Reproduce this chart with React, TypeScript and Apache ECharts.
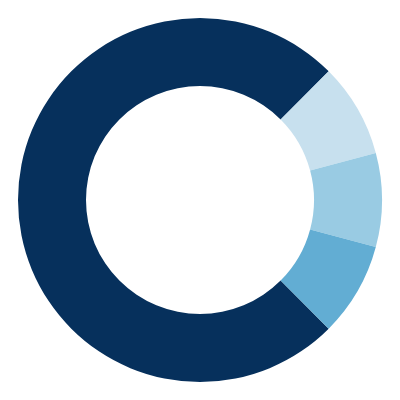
import { useEffect, useRef } from 'react'
import * as echarts from 'echarts'

const CATEGORIES = ['A', 'B', 'C', 'D']
const VALUES = [9, 1, 1, 1]
const COLORS = ['#06305c', '#c7e0ee', '#99cbe3', '#62add3']

export default function App() {
  const elRef = useRef<HTMLDivElement>(null)

  useEffect(() => {
    if (!elRef.current) return
    const chart = echarts.init(elRef.current, undefined, { renderer: 'svg' })
    chart.setOption({
      animation: false,
      backgroundColor: '#ffffff',
      series: [
        {
          type: 'pie',
          center: [200, 200],
          radius: [114, 182],
          startAngle: 315,
          clockwise: true,
          label: { show: false },
          labelLine: { show: false },
          silent: true,
          data: CATEGORIES.map((name, i) => ({
            name,
            value: VALUES[i],
            itemStyle: { color: COLORS[i] },
          })),
        },
      ],
    })
    return () => chart.dispose()
  }, [])

  return (
    <div
      ref={elRef}
      style={{ position: 'fixed', left: 0, top: 0, width: 400, height: 400 }}
    />
  )
}
